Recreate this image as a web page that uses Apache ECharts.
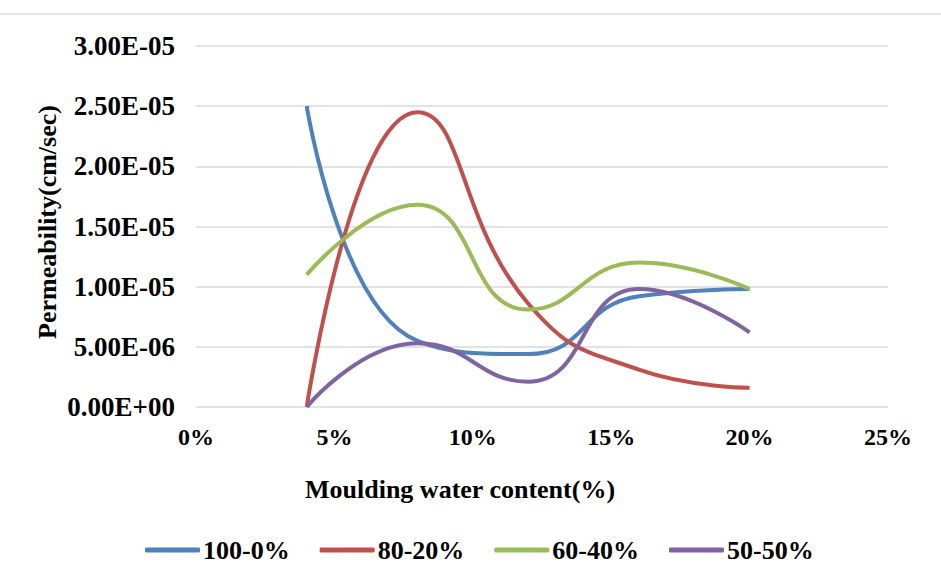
<!DOCTYPE html>
<html>
<head>
<meta charset="utf-8">
<script src="https://cdn.jsdelivr.net/npm/echarts@6/dist/echarts.min.js"></script>
<style>
  html, body { margin: 0; padding: 0; background: #fff; }
  #chart { width: 941px; height: 576px; }
</style>
</head>
<body>
<div id="chart"></div>
<script>
// Moulding water content (fraction) at which each mix was tested
const waterContent = [0.04, 0.08, 0.12, 0.16, 0.20];

// Permeability (cm/sec) for each mix ratio
const mix100_0 = [2.50e-5, 5.5e-6, 4.4e-6, 9.2e-6, 9.8e-6];
const mix80_20 = [0, 2.45e-5, 8.6e-6, 3.1e-6, 1.6e-6];
const mix60_40 = [1.10e-5, 1.68e-5, 8.1e-6, 1.20e-5, 9.8e-6];
const mix50_50 = [0, 5.3e-6, 2.1e-6, 9.8e-6, 6.2e-6];

const seriesNames = ['100-0%', '80-20%', '60-40%', '50-50%'];
const seriesColors = ['#4F81BD', '#C0504D', '#9BBB59', '#8064A2'];

const yTickLabels = ['0.00E+00', '5.00E-06', '1.00E-05', '1.50E-05', '2.00E-05', '2.50E-05', '3.00E-05'];
const xTickLabels = ['0%', '5%', '10%', '15%', '20%', '25%'];

const font = '"Liberation Serif", "Times New Roman", serif';

function pairs(values) {
  return waterContent.map((x, i) => [x, values[i]]);
}

const chart = echarts.init(document.getElementById('chart'), null, { renderer: 'svg' });

chart.setOption({
  backgroundColor: '#fff',
  animation: false,
  grid: { left: 196, right: 53, top: 46, bottom: 169 },
  xAxis: {
    type: 'value',
    min: 0,
    max: 0.25,
    interval: 0.05,
    axisLine: { show: false },
    axisTick: { show: false },
    splitLine: { show: false },
    axisLabel: {
      margin: 18,
      fontFamily: font,
      fontWeight: 'bold',
      fontSize: 24,
      color: '#000',
      formatter: v => xTickLabels[Math.round(v / 0.05)]
    }
  },
  yAxis: {
    type: 'value',
    min: 0,
    max: 3e-5,
    interval: 5e-6,
    axisLine: { show: false },
    axisTick: { show: false },
    splitLine: { lineStyle: { color: '#d9d9d9', width: 1.5 } },
    axisLabel: {
      margin: 21,
      fontFamily: font,
      fontWeight: 'bold',
      fontSize: 27,
      color: '#000',
      formatter: v => yTickLabels[Math.round(v / 5e-6)]
    }
  },
  legend: {
    top: 532,
    left: 140,
    itemWidth: 55,
    itemHeight: 5,
    itemGap: 30,
    icon: 'roundRect',
    textStyle: {
      fontFamily: font,
      fontWeight: 'bold',
      fontSize: 26,
      color: '#000',
      padding: [0, 0, 0, -2]
    },
    data: seriesNames
  },
  graphic: [
    {
      type: 'line',
      shape: { x1: 0, y1: 14, x2: 941, y2: 14 },
      style: { stroke: '#d9d9d9', lineWidth: 1.5 }
    },
    {
      type: 'text',
      left: 305,
      top: 476,
      style: {
        text: 'Moulding water content(%)',
        font: 'bold 26px ' + font,
        fill: '#000'
      }
    },
    {
      type: 'text',
      x: 47,
      y: 222,
      rotation: Math.PI / 2,
      style: {
        text: 'Permeability(cm/sec)',
        font: 'bold 26px ' + font,
        fill: '#000',
        align: 'center',
        verticalAlign: 'middle'
      }
    }
  ],
  series: [mix100_0, mix80_20, mix60_40, mix50_50].map((vals, i) => ({
    name: seriesNames[i],
    type: 'line',
    data: pairs(vals),
    smooth: 0.5,
    showSymbol: false,
    lineStyle: { width: 4, color: seriesColors[i] },
    itemStyle: { color: seriesColors[i] }
  }))
});
</script>
</body>
</html>
